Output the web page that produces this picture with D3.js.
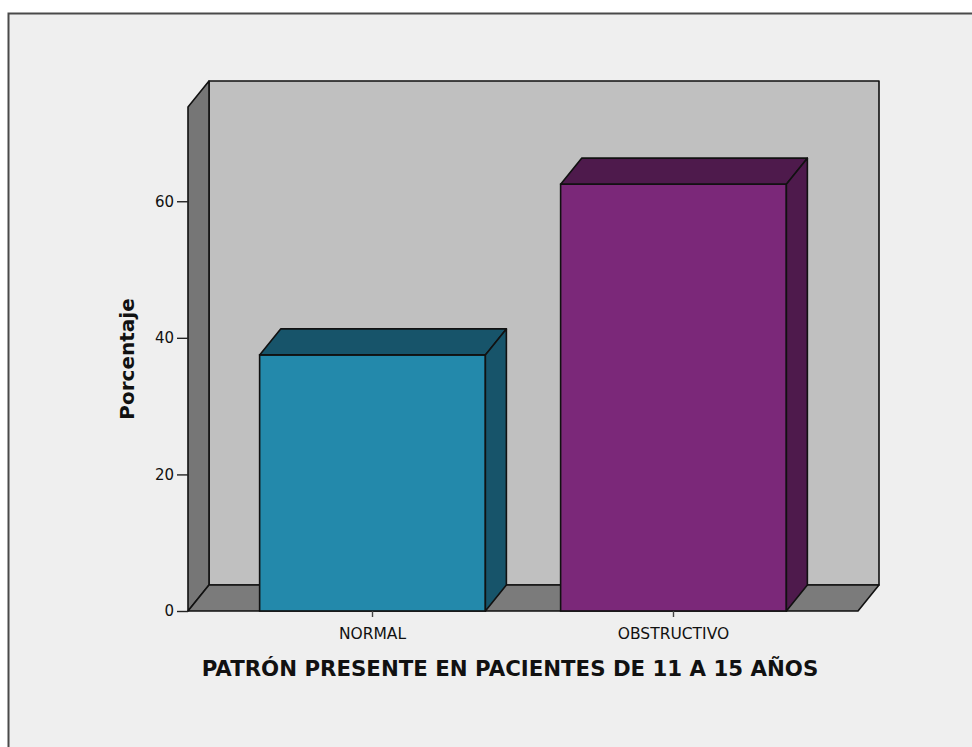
<!DOCTYPE html>
<html>
<head>
<meta charset="utf-8">
<script src="https://cdn.jsdelivr.net/npm/d3@7"></script>
<style>
  html, body { margin: 0; padding: 0; background: #ffffff; }
  svg { display: block; }
</style>
</head>
<body>
<svg id="chart" width="972" height="747"></svg>
<script>
// Chart data
const categories = ["NORMAL", "OBSTRUCTIVO"];
const percentages = [37.5, 62.5];
const yTicks = [0, 20, 40, 60];
const frontColors = ["#2389ab", "#7b2879"];
const shadeColors = ["#17546a", "#4e1a4c"];
const yTitle = "Porcentaje";
const xTitle = "PATRÓN PRESENTE EN PACIENTES DE 11 A 15 AÑOS";

const svg = d3.select("#chart");
const font = "'DejaVu Sans', 'Open Sans', sans-serif";

// Panel frame
svg.append("rect")
  .attr("x", 8.5).attr("y", 13.5)
  .attr("width", 980).attr("height", 760)
  .attr("fill", "#efefef")
  .attr("stroke", "#4a4a4a").attr("stroke-width", 2);

// Plot geometry (front plane) and 3D depth offset
const plotLeft = 188, plotRight = 858, plotBottom = 611, plotTop = 107;
const dx = 21, dy = -26;

const y = d3.scaleLinear().domain([0, 73.8]).range([plotBottom, plotTop]);
const x = d3.scaleBand().domain(categories).range([plotLeft, plotRight])
  .paddingInner(0.25).paddingOuter(0.238);

const line = d3.line();
const stroke = "#111";
const sw = 1.6;

// Back wall
svg.append("path")
  .attr("d", line([[plotLeft + dx, plotBottom + dy], [plotLeft + dx, plotTop + dy], [plotRight + dx, plotTop + dy], [plotRight + dx, plotBottom + dy]]) + "Z")
  .attr("fill", "#c0c0c0").attr("stroke", stroke).attr("stroke-width", sw).attr("stroke-linejoin", "round");

// Left side wall
svg.append("path")
  .attr("d", line([[plotLeft, plotBottom], [plotLeft, plotTop], [plotLeft + dx, plotTop + dy], [plotLeft + dx, plotBottom + dy]]) + "Z")
  .attr("fill", "#767676").attr("stroke", stroke).attr("stroke-width", sw).attr("stroke-linejoin", "round");

// Floor
svg.append("path")
  .attr("d", line([[plotLeft, plotBottom], [plotRight, plotBottom], [plotRight + dx, plotBottom + dy], [plotLeft + dx, plotBottom + dy]]) + "Z")
  .attr("fill", "#7b7b7b").attr("stroke", stroke).attr("stroke-width", sw).attr("stroke-linejoin", "round");

// 3D bars
const bars = svg.append("g").selectAll("g")
  .data(categories.map((c, i) => ({ c, v: percentages[i], i })))
  .join("g");

bars.append("rect")
  .attr("x", d => x(d.c))
  .attr("y", d => y(d.v))
  .attr("width", x.bandwidth())
  .attr("height", d => y(0) - y(d.v))
  .attr("fill", d => frontColors[d.i])
  .attr("stroke", stroke).attr("stroke-width", sw);

bars.append("path")
  .attr("d", d => {
    const x0 = x(d.c), x1 = x0 + x.bandwidth(), yt = y(d.v);
    return line([[x0, yt], [x0 + dx, yt + dy], [x1 + dx, yt + dy], [x1, yt]]) + "Z";
  })
  .attr("fill", d => shadeColors[d.i])
  .attr("stroke", stroke).attr("stroke-width", sw).attr("stroke-linejoin", "round");

bars.append("path")
  .attr("d", d => {
    const x1 = x(d.c) + x.bandwidth(), yt = y(d.v), yb = y(0);
    return line([[x1, yt], [x1 + dx, yt + dy], [x1 + dx, yb + dy], [x1, yb]]) + "Z";
  })
  .attr("fill", d => shadeColors[d.i])
  .attr("stroke", stroke).attr("stroke-width", sw).attr("stroke-linejoin", "round");

// Y axis
const yAxis = svg.append("g")
  .attr("transform", `translate(${plotLeft},0)`)
  .call(d3.axisLeft(y).tickValues(yTicks).tickSize(11).tickPadding(3));
yAxis.select(".domain").remove();
yAxis.selectAll(".tick line").attr("stroke", "#222").attr("stroke-width", 1.4);
yAxis.selectAll(".tick text")
  .attr("fill", "#111").attr("font-family", font).attr("font-size", 15);

// X axis
const xAxis = svg.append("g")
  .attr("transform", `translate(0,${plotBottom})`)
  .call(d3.axisBottom(x).tickSize(6).tickPadding(10.5));
xAxis.select(".domain").remove();
xAxis.selectAll(".tick line").attr("stroke", "#444").attr("stroke-width", 1.4);
xAxis.selectAll(".tick text")
  .attr("fill", "#111").attr("font-family", font).attr("font-size", 15.5);

// Axis titles
svg.append("text")
  .attr("transform", "translate(134,359) rotate(-90)")
  .attr("text-anchor", "middle")
  .attr("font-family", font).attr("font-weight", "bold").attr("font-size", 20)
  .attr("fill", "#111")
  .text(yTitle);

svg.append("text")
  .attr("x", 510).attr("y", 676)
  .attr("text-anchor", "middle")
  .attr("font-family", font).attr("font-weight", "bold").attr("font-size", 21.3)
  .attr("fill", "#111")
  .text(xTitle);
</script>
</body>
</html>
